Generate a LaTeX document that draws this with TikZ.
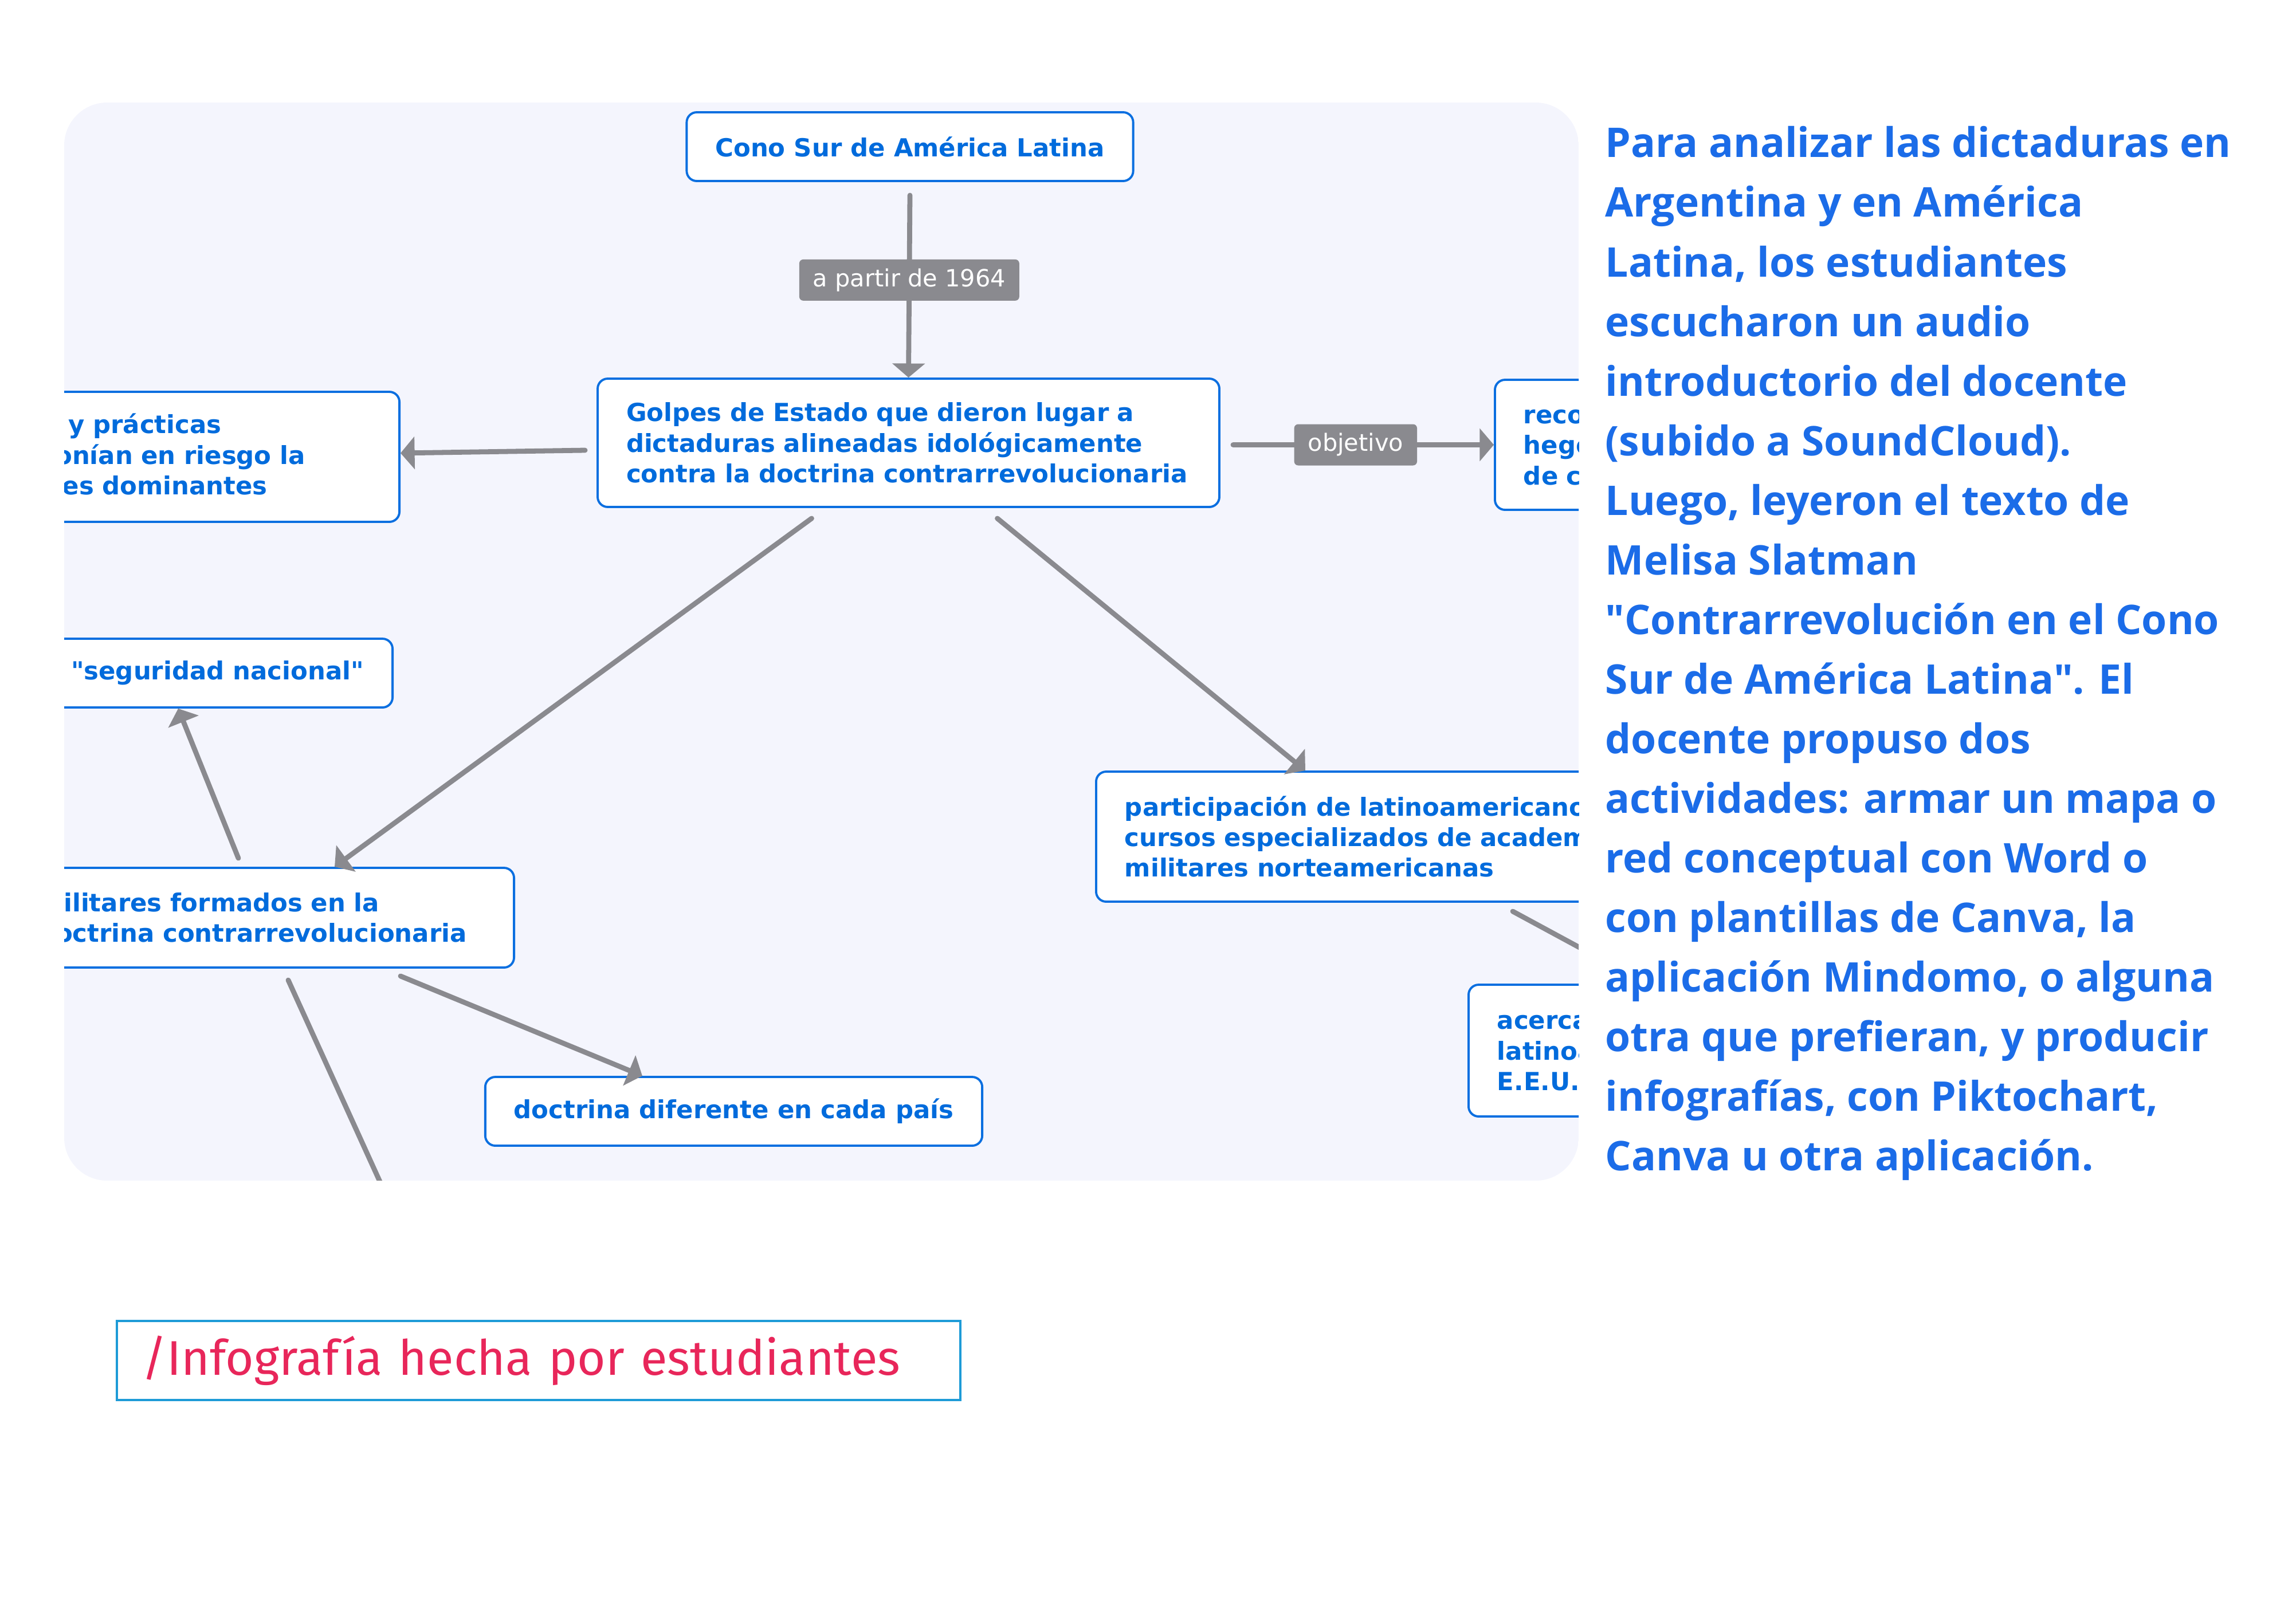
\documentclass[tikz,border=0pt]{standalone}
\usepackage{fontspec}
\newfontfamily\mapfont{DejaVu Sans}
\newfontfamily\panelfont{Open Sans}
\newfontfamily\piefont{Fira Sans}
\usetikzlibrary{arrows.meta,positioning}
\definecolor{mapblue}{RGB}{11,111,224}
\definecolor{maptext}{RGB}{0,107,220}
\definecolor{linkgray}{RGB}{138,138,143}
\definecolor{mapfondo}{RGB}{244,245,253}
\definecolor{panelblue}{RGB}{27,108,232}
\definecolor{rosa}{RGB}{232,38,90}
\definecolor{celeste}{RGB}{30,155,215}

\begin{document}
\begin{tikzpicture}[
  concepto/.style={rectangle, rounded corners=5pt, draw=mapblue, line width=1.1pt, fill=white,
                   text=maptext, font=\mapfont\bfseries\fontsize{12.35}{15.2}\selectfont,
                   inner xsep=0.5cm, inner ysep=0pt},
  rotulo/.style={rectangle, rounded corners=2pt, fill=linkgray, text=white,
                 font=\mapfont\fontsize{11.8}{14}\selectfont, minimum height=0.72cm, inner xsep=0.24cm},
  enlace/.style={-{Triangle[length=7pt,width=16pt]}, draw=linkgray, line width=2.5pt, line cap=round},
  panel/.style={text=panelblue, font=\panelfont\bfseries\fontsize{20.3}{29.6}\selectfont,
                align=left, inner sep=0pt},
  pie/.style={rectangle, draw=celeste, line width=1pt, text=rosa, font=\piefont\fontsize{24.2}{28}\selectfont,
              text width=13.86cm, align=left, inner xsep=0.43cm, minimum height=1.38cm}]

\useasboundingbox (0,0) rectangle (40,-28.34);

\begin{scope}
\clip[rounded corners=0.75cm] (1.12,-1.79) rectangle (27.55,-20.61);
\fill[mapfondo] (1.12,-1.79) rectangle (27.55,-20.61);

\node[concepto, minimum width=7.78cm, minimum height=1.2cm] (cono) at (15.88,-2.56) {Cono Sur de América Latina};
\node[concepto, text width=9.85cm, align=left, minimum height=2.24cm] (golpes) at (15.855,-7.73)
  {Golpes de Estado que dieron lugar a\\dictaduras alineadas idológicamente\\contra la doctrina contrarrevolucionaria};
\node[concepto, anchor=east, text width=10.79cm, align=left, minimum height=2.27cm] (ideas) at (6.99,-7.975)
  {Organizaciones, ideas y prácticas\\revolucionarias que ponían en riesgo la\\hegemonía de las clases dominantes};
\node[concepto, anchor=west, text width=5cm, align=left, minimum height=2.27cm] (hegemonia) at (26.07,-7.765)
  {recomponer la\\hegemonía\\de clase};
\node[concepto, anchor=east, minimum height=1.2cm] (seguridad) at (6.87,-11.75) {Doctrina de la "seguridad nacional"};
\node[concepto, anchor=east, text width=7.81cm, align=left, minimum height=1.74cm] (militares) at (8.99,-16.02)
  {militares formados en la\\doctrina contrarrevolucionaria};
\node[concepto, anchor=west, text width=9.5cm, align=left, minimum height=2.27cm] (participacion) at (19.11,-14.605)
  {participación de latinoamericanos en\\cursos especializados de academias\\militares norteamericanas};
\node[concepto, anchor=west, text width=9cm, align=left, minimum height=2.3cm] (acercamiento) at (25.61,-18.34)
  {acercamiento de los militares\\latinoamericanos a\\E.E.U.U.};
\node[concepto, minimum width=8.57cm, minimum height=1.2cm] (diferente) at (12.805,-19.40) {doctrina diferente en cada país};
\coordinate (abajo) at (7.3,-22.1);

\draw[enlace] ([yshift=-0.23cm]cono.south) -- node[rotulo, pos=0.465] (partir) {a partir de 1964} (golpes.north);
\draw[enlace] ([xshift=-0.2cm,yshift=-0.13cm]golpes.west) -- ([yshift=0.065cm]ideas.east);
\draw[enlace] ([xshift=0.22cm,yshift=-0.035cm]golpes.east) -- node[rotulo, pos=0.47] (objetivo) {objetivo} (hegemonia.west);
\draw[enlace] ([xshift=-1.69cm,yshift=-0.18cm]golpes.south) -- ([xshift=-3.15cm]militares.north east);
\draw[enlace] ([xshift=1.55cm,yshift=-0.18cm]golpes.south) -- ([xshift=3.67cm]participacion.north west);
\draw[enlace] ([xshift=-4.83cm,yshift=0.15cm]militares.north east) -- ([xshift=-3.76cm]seguridad.south east);
\draw[enlace] ([xshift=-2cm,yshift=-0.13cm]militares.south east) -- ([xshift=2.76cm]diferente.north west);
\draw[enlace] ([xshift=-3.96cm,yshift=-0.2cm]militares.south east) -- (abajo);
\draw[enlace] ([xshift=7.29cm,yshift=-0.15cm]participacion.south west) -- ([xshift=3.12cm]acercamiento.north west);
\end{scope}

\node[panel, anchor=north west] (texto) at (28.01,-2.2)
  {Para analizar las dictaduras en\\Argentina y en América\\Latina, los estudiantes\\escucharon un audio\\
   introductorio del docente\\(subido a SoundCloud).\\Luego, leyeron el texto de\\Melisa Slatman\\
   "Contrarrevolución en el Cono\\Sur de América Latina". El\\docente propuso dos\\
   actividades: armar un mapa o\\red conceptual con Word o\\con plantillas de Canva, la\\
   aplicación Mindomo, o alguna\\otra que prefieran, y producir\\infografías, con Piktochart,\\
   Canva u otra aplicación.};

\node[pie] (pie) at (9.4,-23.75) {/Infografía hecha por estudiantes};
\end{tikzpicture}
\end{document}
